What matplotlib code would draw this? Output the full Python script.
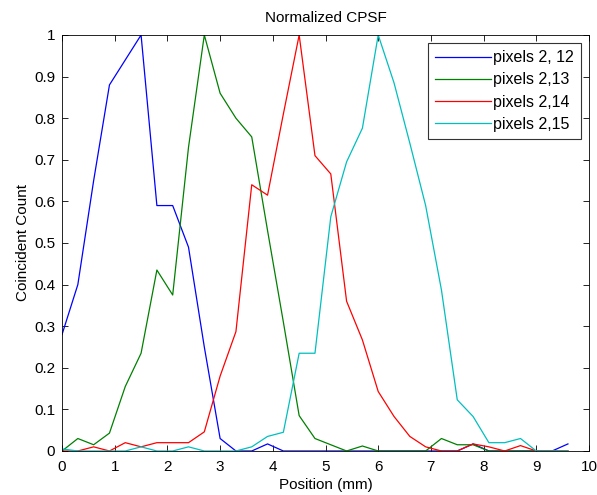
import matplotlib
matplotlib.use("Agg")
import matplotlib.pyplot as plt
import numpy as np

plt.rcParams['font.family'] = ['Liberation Sans', 'DejaVu Sans']

# positions in mm, step 0.3
position = [0.0, 0.3, 0.6, 0.9, 1.2, 1.5, 1.8, 2.1, 2.4, 2.7, 3.0,
            3.3, 3.6, 3.9, 4.2, 4.5, 4.8, 5.1, 5.4, 5.7, 6.0, 6.3,
            6.6, 6.9, 7.2, 7.5, 7.8, 8.1, 8.4, 8.7, 9.0, 9.3, 9.6]

pix_2_12 = [0.28, 0.40, 0.65, 0.88, 0.94, 1.0, 0.59, 0.59, 0.49, 0.25, 0.03,
            0.0, 0.0, 0.017, 0.0, 0.0, 0.0, 0.0, 0.0, 0.0, 0.0, 0.0,
            0.0, 0.0, 0.0, 0.0, 0.017, 0.0, 0.0, 0.0, 0.0, 0.0, 0.017]

pix_2_13 = [0.0, 0.03, 0.015, 0.043, 0.155, 0.235, 0.435, 0.375, 0.73, 1.0, 0.86,
            0.80, 0.755, 0.53, 0.31, 0.085, 0.03, 0.015, 0.0, 0.012, 0.0, 0.0,
            0.0, 0.0, 0.03, 0.015, 0.015, 0.0, 0.0, 0.0, 0.0, 0.0, 0.0]

pix_2_14 = [0.0, 0.0, 0.01, 0.0, 0.02, 0.01, 0.02, 0.02, 0.02, 0.046, 0.18,
            0.287, 0.64, 0.615, 0.81, 1.0, 0.71, 0.666, 0.36, 0.267, 0.143, 0.083,
            0.035, 0.01, 0.0, 0.0, 0.017, 0.01, 0.0, 0.013, 0.0, 0.0, 0.0]

pix_2_15 = [0.005, 0.0, 0.0, 0.0, 0.0, 0.01, 0.0, 0.0, 0.01, 0.0, 0.0,
            0.0, 0.01, 0.035, 0.045, 0.235, 0.235, 0.563, 0.695, 0.776, 1.0, 0.885,
            0.74, 0.59, 0.387, 0.123, 0.083, 0.02, 0.02, 0.03, 0.0, 0.0, 0.0]

labels = ['pixels 2, 12', 'pixels 2,13', 'pixels 2,14', 'pixels 2,15']
colors = ['#0000ff', '#008000', '#ff0000', '#00bfbf']

fig = plt.figure(figsize=(5.97, 4.95), dpi=100)
ax = fig.add_axes([0.1039, 0.0889, 0.8827, 0.8404])

for series, lab, col in zip([pix_2_12, pix_2_13, pix_2_14, pix_2_15], labels, colors):
    ax.plot(position, series, color=col, linewidth=0.9, label=lab)

ax.set_xlim(0, 10)
ax.set_ylim(0, 1)
ax.set_xticks(np.arange(0, 11, 1))
ax.set_yticks(np.arange(0, 1.01, 0.1))
ax.set_yticklabels(['0', '0.1', '0.2', '0.3', '0.4', '0.5', '0.6', '0.7', '0.8', '0.9', '1'])
ax.tick_params(direction='in', top=True, right=True, labelsize=11, length=4, width=0.6, pad=5)
ax.tick_params(axis='x', pad=6.5)
for s in ax.spines.values():
    s.set_linewidth(0.6)

ax.set_title('Normalized CPSF', fontsize=11, pad=9)
ax.set_xlabel('Position (mm)', fontsize=11, labelpad=3)
ax.set_ylabel('Coincident Count', fontsize=11, labelpad=3)

leg = ax.legend(loc='upper right', fontsize=11.5, handlelength=3.5, handletextpad=0.15,
                borderpad=0.45, labelspacing=0.45, fancybox=False, framealpha=1,
                edgecolor='#333333', borderaxespad=0.5)
leg.get_frame().set_linewidth(0.8)

fig.savefig('out.png', dpi=100)
